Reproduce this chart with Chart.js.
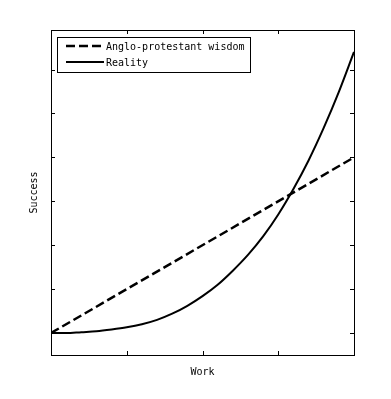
<!DOCTYPE html>
<html>
<head>
<meta charset="utf-8">
<script src="https://cdn.jsdelivr.net/npm/chart.js@4"></script>
<style>
  html, body { margin: 0; padding: 0; background: #fff; }
  #wrap { width: 391px; height: 399px; }
</style>
</head>
<body>
<div id="wrap"><canvas id="c" width="391" height="399"></canvas></div>
<script>
// values
const work = [0, 0.2, 0.4, 0.6, 0.8, 1.0, 1.2, 1.4, 1.6, 1.8, 2.0,
              2.2, 2.4, 2.6, 2.8, 3.0, 3.2, 3.4, 3.6, 3.8, 4.0];
const reality = [0, 0, 0.02, 0.04, 0.08, 0.13, 0.2, 0.3, 0.44, 0.62, 0.84,
                 1.1, 1.42, 1.78, 2.2, 2.7, 3.28, 3.93, 4.67, 5.49, 6.4];
const wisdomX = [0, 4];
const wisdomY = [0, 4];
const xTicks = [1, 2, 3];
const yTicks = [0, 1, 2, 3, 4, 5, 6];
const labels = ['Anglo-protestant wisdom', 'Reality'];

const FONT = '"DejaVu Sans Mono", monospace';

// box around the plot, inward ticks on all four sides, boxed legend
const framePlugin = {
    id: 'frame',
    afterDatasetsDraw(chart) {
        const ctx = chart.ctx;
        const a = chart.chartArea;
        const xs = chart.scales.x;
        const ys = chart.scales.y;
        const len = 4;
        ctx.save();
        ctx.strokeStyle = '#000';
        ctx.lineWidth = 1;
        ctx.setLineDash([]);
        ctx.strokeRect(a.left + 0.5, a.top + 0.5, a.right - a.left, a.bottom - a.top);
        ctx.beginPath();
        xTicks.forEach(v => {
            const px = Math.round(xs.getPixelForValue(v)) + 0.5;
            ctx.moveTo(px, a.bottom); ctx.lineTo(px, a.bottom - len);
            ctx.moveTo(px, a.top); ctx.lineTo(px, a.top + len);
        });
        yTicks.forEach(v => {
            const py = Math.round(ys.getPixelForValue(v)) + 0.5;
            ctx.moveTo(a.left, py); ctx.lineTo(a.left + len, py);
            ctx.moveTo(a.right, py); ctx.lineTo(a.right - len, py);
        });
        ctx.stroke();

        // legend
        const lx = 57, ly = 37, lw = 193, lh = 35;
        ctx.fillStyle = '#fff';
        ctx.fillRect(lx, ly, lw, lh);
        ctx.strokeRect(lx + 0.5, ly + 0.5, lw, lh);
        ctx.font = '10px ' + FONT;
        ctx.textBaseline = 'middle';
        ctx.fillStyle = '#000';
        chart.data.datasets.forEach((ds, i) => {
            const y = ly + 9 + i * 16;
            ctx.beginPath();
            ctx.lineWidth = ds.borderWidth;
            ctx.setLineDash(ds.borderDash || []);
            ctx.moveTo(66, y); ctx.lineTo(104, y);
            ctx.stroke();
            ctx.fillText(ds.label, 106, y + 1);
        });
        ctx.restore();
    }
};

new Chart(document.getElementById('c'), {
    type: 'line',
    data: {
        datasets: [
            {
                label: labels[0],
                data: wisdomX.map((x, i) => ({ x: x, y: wisdomY[i] })),
                borderColor: '#000',
                borderWidth: 2.5,
                borderDash: [9, 4],
                pointRadius: 0,
                fill: false
            },
            {
                label: labels[1],
                data: work.map((x, i) => ({ x: x, y: reality[i] })),
                borderColor: '#000',
                borderWidth: 2,
                pointRadius: 0,
                cubicInterpolationMode: 'monotone',
                fill: false
            }
        ]
    },
    options: {
        responsive: false,
        animation: false,
        layout: { padding: { left: 25, top: 30, right: 37, bottom: 17 } },
        plugins: {
            legend: { display: false },
            tooltip: { enabled: false }
        },
        scales: {
            x: {
                type: 'linear',
                min: 0,
                max: 4,
                grid: { display: false, drawTicks: false },
                border: { display: false },
                ticks: { display: false },
                title: {
                    display: true,
                    text: 'Work',
                    color: '#000',
                    font: { family: FONT, size: 10 },
                    padding: { top: 11, bottom: 4 }
                }
            },
            y: {
                type: 'linear',
                min: -0.5,
                max: 6.9,
                grid: { display: false, drawTicks: false },
                border: { display: false },
                ticks: { display: false },
                title: {
                    display: true,
                    text: 'Success',
                    color: '#000',
                    font: { family: FONT, size: 10 },
                    padding: { top: 3, bottom: 11 }
                }
            }
        }
    },
    plugins: [framePlugin]
});
</script>
</body>
</html>
